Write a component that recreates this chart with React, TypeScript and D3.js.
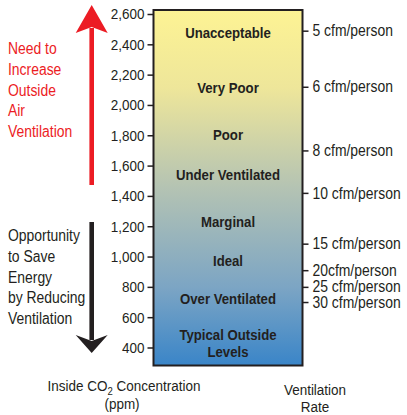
import React, { useEffect, useRef } from 'react'
import * as d3 from 'd3'

// CO2 concentration ticks (ppm)
const co2Ticks = [400, 600, 800, 1000, 1200, 1400, 1600, 1800, 2000, 2200, 2400, 2600]

// ventilation rate markers on the right axis
const ventLabels = ['5 cfm/person', '6 cfm/person', '8 cfm/person', '10 cfm/person', '15 cfm/person', '20cfm/person', '25 cfm/person', '30 cfm/person']
const ventPpm = [2490, 2120, 1700, 1420, 1085, 910, 800, 700]

// air quality bands
const bandLabels = ['Unacceptable', 'Very Poor', 'Poor', 'Under Ventilated', 'Marginal', 'Ideal', 'Over Ventilated', 'Typical Outside|Levels']
const bandPpm = [2474, 2111, 1801, 1537, 1227, 970, 720, 430]

const upText = ['Need to', 'Increase', 'Outside', 'Air', 'Ventilation']
const downText = ['Opportunity', 'to Save', 'Energy', 'by Reducing', 'Ventilation']

const FONT = '"Liberation Sans", Arial, sans-serif'
const SX = 0.87 // horizontal squeeze to mimic a condensed face
const INK = '#231f20'
const RED = '#ec1c24'

type Sel = d3.Selection<SVGGElement, unknown, null, undefined>

// condensed text helper
const addText = (parent: Sel, x: number, y: number, size: number, anchor = 'start', fill = INK, weight = 'normal', sx = SX) =>
  parent.append('g')
    .attr('transform', `translate(${x},${y}) scale(${sx},1)`)
    .append('text')
    .attr('text-anchor', anchor)
    .style('font-family', FONT)
    .style('font-size', `${size}px`)
    .style('font-weight', weight)
    .attr('fill', fill)

const App: React.FC = () => {
  const svgRef = useRef<SVGSVGElement>(null)

  useEffect(() => {
    if (!svgRef.current) return
    const svg = d3.select(svgRef.current)
    svg.selectAll('*').remove()

    const W = 407
    const H = 415
    svg.attr('width', W).attr('height', H)
    const root = svg.append('g') as unknown as Sel

    const y = d3.scaleLinear().domain([400, 2600]).range([347.5, 14])
    const boxLeft = 153.5
    const boxRight = 302.5
    const boxTop = 10
    const boxBottom = 365.5

    const defs = svg.append('defs')
    const grad = defs.append('linearGradient')
      .attr('id', 'co2grad')
      .attr('x1', 0).attr('x2', 0).attr('y1', 0).attr('y2', 1)
    grad.append('stop').attr('offset', '0%').attr('stop-color', '#fdf394')
    grad.append('stop').attr('offset', '22%').attr('stop-color', '#eee69a')
    grad.append('stop').attr('offset', '50%').attr('stop-color', '#b4c3b3')
    grad.append('stop').attr('offset', '78%').attr('stop-color', '#7ca5c4')
    grad.append('stop').attr('offset', '100%').attr('stop-color', '#3a85c8')

    root.append('rect')
      .attr('x', boxLeft).attr('y', boxTop)
      .attr('width', boxRight - boxLeft).attr('height', boxBottom - boxTop)
      .attr('fill', 'url(#co2grad)')
      .attr('stroke', INK)
      .attr('stroke-width', 2)

    // left axis
    const left = root.append('g').attr('transform', `translate(${boxLeft},0)`)
      .call(d3.axisLeft(y).tickValues(co2Ticks).tickFormat(d3.format(',')).tickSize(6))
    left.select('.domain').remove()
    left.selectAll('line').attr('stroke', INK).attr('stroke-width', 1.5)
    left.selectAll('text')
      .attr('transform', `scale(${SX},1)`)
      .attr('x', -9 / SX)
      .style('font-family', FONT).style('font-size', '15.5px').attr('fill', INK)

    // right axis
    const right = root.append('g').attr('transform', `translate(${boxRight},0)`)
      .call(d3.axisRight(y).tickValues(ventPpm).tickFormat((_, i) => ventLabels[i]).tickSize(6))
    right.select('.domain').remove()
    right.selectAll('line').attr('stroke', INK).attr('stroke-width', 1.5)
    right.selectAll('text')
      .attr('transform', `scale(${SX},1)`)
      .attr('x', 10 / SX)
      .style('font-family', FONT).style('font-size', '16px').attr('fill', INK)

    // band labels
    const cx = (boxLeft + boxRight) / 2
    bandLabels.forEach((lab, i) => {
      const lines = lab.split('|')
      const t = addText(root, cx, y(bandPpm[i]), 15, 'middle', INK, 'bold', 0.88)
      lines.forEach((l, j) => {
        t.append('tspan')
          .attr('x', 0)
          .attr('dy', j === 0 ? `${0.35 - (lines.length - 1) * 0.58}em` : '1.16em')
          .text(l)
      })
    })

    // side texts
    upText.forEach((l, i) => {
      addText(root, 8, 54 + i * 20.8, 16, 'start', RED).text(l)
    })
    downText.forEach((l, i) => {
      addText(root, 8, 241 + i * 20.8, 16, 'start', INK).text(l)
    })

    // arrows
    const ax = 91.7
    root.append('rect').attr('x', ax - 2.3).attr('y', 28).attr('width', 4.6).attr('height', 157).attr('fill', RED)
    root.append('path')
      .attr('d', `M${ax},5 L${ax + 16},33 L${ax},27 L${ax - 16},33 Z`)
      .attr('fill', RED)
    root.append('rect').attr('x', ax - 2.3).attr('y', 222).attr('width', 4.6).attr('height', 118).attr('fill', INK)
    root.append('path')
      .attr('d', `M${ax},353 L${ax + 16},335 L${ax},341 L${ax - 16},335 Z`)
      .attr('fill', INK)

    // axis titles
    const t1 = addText(root, 124, 391, 15.5, 'middle')
    t1.append('tspan').text('Inside CO')
    t1.append('tspan').attr('dy', 4).style('font-size', '11px').text('2')
    t1.append('tspan').attr('dy', -4).text(' Concentration')
    addText(root, 122, 409, 15.5, 'middle').text('(ppm)')
    addText(root, 315, 395, 15.5, 'middle').text('Ventilation')
    addText(root, 315, 412, 15.5, 'middle').text('Rate')
  }, [])

  return (
    <div style={{ position: 'absolute', left: 0, top: 0 }}>
      <svg ref={svgRef} style={{ display: 'block' }}></svg>
    </div>
  )
}

export default App
